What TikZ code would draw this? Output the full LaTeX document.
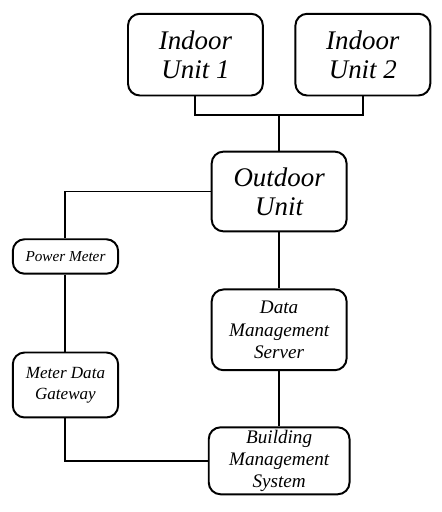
\documentclass[tikz,border=0pt]{standalone}
\usepackage{fontspec}
\setmainfont{Liberation Serif}
\usepackage{tikz}
\usetikzlibrary{positioning}
\usetikzlibrary{calc}
\tikzstyle{box} = [draw, rectangle, rounded corners=9pt, align=center, inner sep=0pt]
\tikzstyle{unitbox} = [box, minimum width=102.75pt, minimum height=62.25pt, font=\itshape\fontsize{20.5}{22}\selectfont]
\tikzstyle{serverbox} = [box, minimum width=102.75pt, minimum height=61.5pt, font=\itshape\fontsize{14.6}{17.25}\selectfont]
\tikzstyle{meterbox} = [box, minimum width=80.25pt, minimum height=26.25pt, font=\itshape\fontsize{11.6}{13}\selectfont]
\tikzstyle{coord} = [coordinate]

\begin{document}
\begin{tikzpicture}[line width=1.5pt]
    \node [unitbox] (iu1) {Indoor\\Unit 1};
    \node [unitbox, right=23.25pt of iu1] (iu2) {Indoor\\Unit 2};
    \coordinate (mid) at ($(iu1.south)!0.5!(iu2.south)$);
    \coordinate (bus) at ($(mid)+(0,-14.25pt)$);
    \node [unitbox, minimum height=60.75pt, below=41.25pt of mid] (od) {Outdoor\\Unit};
    \node [serverbox, below=42.75pt of od] (dms) {Data\\Management\\Server};
    \node [serverbox, minimum width=107.25pt, minimum height=51pt, font=\itshape\fontsize{14.6}{17}\selectfont, below=42pt of dms] (bms) {Building\\Management\\System};
    \node [meterbox, below=66.75pt of od.north, xshift=-162.75pt] (pm) {Power Meter};
    \node [meterbox, minimum height=49.5pt, font=\itshape\fontsize{13}{15.75}\selectfont, below=58.5pt of pm] (mdg) {Meter Data\\Gateway};

    \draw (iu1.south) |- (bus) -| (iu2.south);
    \draw (bus) -- (od);
    \draw (od) -- (dms);
    \draw (dms) -- (bms);
    \draw (od.west) -| (pm.north);
    \draw (pm) -- (mdg);
    \draw (mdg.south) |- (bms.west);

    \useasboundingbox ($(pm.west |- iu1.north)+(-9pt,9.75pt)$) rectangle ($(iu2.east |- bms.south)+(7.5pt,-12.75pt)$);
\end{tikzpicture}
\end{document}
